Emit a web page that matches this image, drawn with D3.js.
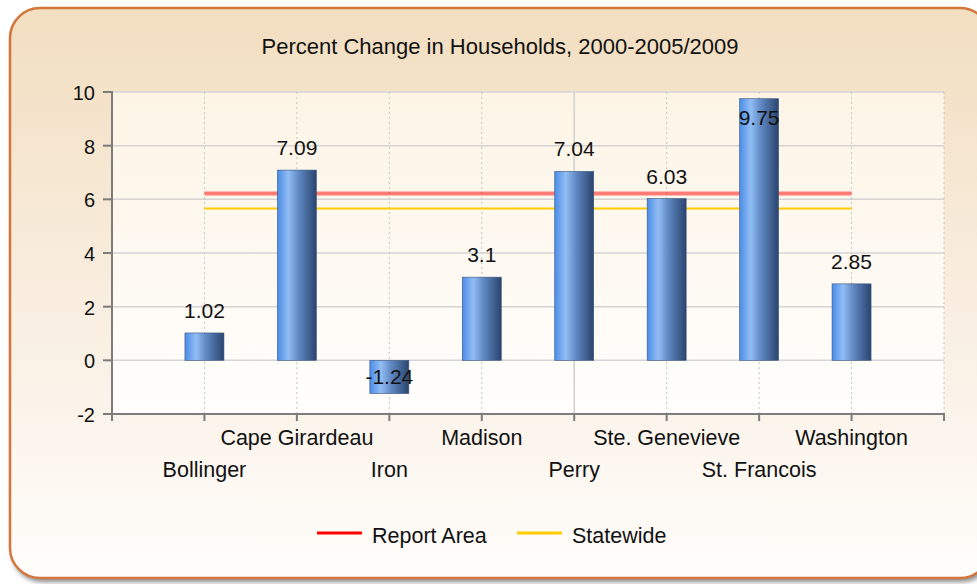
<!DOCTYPE html>
<html><head><meta charset="utf-8">
<script src="https://cdn.jsdelivr.net/npm/d3@7"></script>
<style>html,body{margin:0;padding:0;background:#fff;overflow:hidden}svg{display:block}</style>
</head><body>
<script>
const title = "Percent Change in Households, 2000-2005/2009";
const categories = ["Bollinger","Cape Girardeau","Iron","Madison","Perry","Ste. Genevieve","St. Francois","Washington"];
const values = [1.02, 7.09, -1.24, 3.1, 7.04, 6.03, 9.75, 2.85];
const reportArea = 6.22;
const statewide = 5.66;
const yTicks = [-2, 0, 2, 4, 6, 8, 10];
const legendItems = ["Report Area", "Statewide"];

const W = 977, H = 584;
const font = "'Liberation Sans', Arial, sans-serif";
const txt = "#111111";
const svg = d3.select("body").append("svg").attr("width", W).attr("height", H);
const defs = svg.append("defs");

const bg = defs.append("linearGradient").attr("id","bg").attr("x1",0).attr("y1",0).attr("x2",0).attr("y2",1);
bg.append("stop").attr("offset","0%").attr("stop-color","#f2dec0");
bg.append("stop").attr("offset","55%").attr("stop-color","#f9efe2");
bg.append("stop").attr("offset","100%").attr("stop-color","#fffdfb");

const pg = defs.append("linearGradient").attr("id","pg").attr("x1",0).attr("y1",0).attr("x2",0).attr("y2",1);
pg.append("stop").attr("offset","0%").attr("stop-color","#fdf4e5");
pg.append("stop").attr("offset","100%").attr("stop-color","#fffefd");

const bgB = defs.append("linearGradient").attr("id","bar").attr("x1",0).attr("y1",0).attr("x2",1).attr("y2",0);
[["0%","#4a8ce8"],["28%","#92bdf4"],["55%","#5f88c2"],["100%","#2a446e"]].forEach(s =>
  bgB.append("stop").attr("offset",s[0]).attr("stop-color",s[1]));

const sh = defs.append("filter").attr("id","sh").attr("x","-5%").attr("y","-5%").attr("width","110%").attr("height","115%");
sh.append("feGaussianBlur").attr("stdDeviation",2.5);

// frame
svg.append("rect").attr("x",12).attr("y",12).attr("width",980).attr("height",570).attr("rx",30)
  .attr("fill","#8a8a8a").attr("filter","url(#sh)");
svg.append("rect").attr("x",10).attr("y",8).attr("width",980).attr("height",570).attr("rx",30)
  .attr("fill","url(#bg)").attr("stroke","#d2763c").attr("stroke-width",2.5);

// title
svg.append("text").attr("x",500).attr("y",54).attr("text-anchor","middle")
  .attr("font-family",font).attr("font-size",22).attr("fill",txt).text(title);

const x = d3.scaleLinear().domain([0, categories.length + 1]).range([112, 944]);
const y = d3.scaleLinear().domain([-2, 10]).range([414, 92]);

// plot area
svg.append("rect").attr("x",x(0)).attr("y",y(10)).attr("width",x(9)-x(0)).attr("height",y(-2)-y(10))
  .attr("fill","url(#pg)");

// horizontal gridlines
svg.append("g").selectAll("line").data(yTicks.filter(t => t > -2)).join("line")
  .attr("x1",x(0)).attr("x2",x(9)).attr("y1",d=>y(d)).attr("y2",d=>y(d))
  .attr("stroke","#d4d4d4").attr("stroke-width",1.5);

// vertical gridlines
const vIdx = d3.range(1, categories.length + 2);
svg.append("g").selectAll("line").data(vIdx).join("line")
  .attr("x1",d=>x(d)).attr("x2",d=>x(d)).attr("y1",y(10)).attr("y2",y(-2))
  .attr("stroke", d => d === 5 ? "#d0d0d0" : "#c4c4c4")
  .attr("stroke-width", d => d === 5 ? 1.5 : 1)
  .attr("stroke-dasharray", d => d === 5 ? null : "2,3");

// lines
svg.append("line").attr("x1",x(1)).attr("x2",x(categories.length)).attr("y1",y(reportArea)).attr("y2",y(reportArea))
  .attr("stroke","#ff0000").attr("stroke-opacity",0.5).attr("stroke-width",4);
svg.append("line").attr("x1",x(1)).attr("x2",x(categories.length)).attr("y1",y(statewide)).attr("y2",y(statewide))
  .attr("stroke","#ffcc00").attr("stroke-width",2);

// bars
const bw = 39;
svg.append("g").selectAll("rect").data(values).join("rect")
  .attr("x",(d,i)=>x(i+1)-bw/2).attr("width",bw)
  .attr("y",d=>y(Math.max(0,d))).attr("height",d=>Math.abs(y(d)-y(0)))
  .attr("fill","url(#bar)").attr("stroke","#3a5680").attr("stroke-width",0.6);

// value labels
svg.append("g").selectAll("text").data(values).join("text")
  .attr("x",(d,i)=>x(i+1)).attr("text-anchor","middle")
  .attr("y",d => d < 0 ? y(d/2) + 7.5 : Math.max(y(d) - 15, y(10) + 33))
  .attr("font-family",font).attr("font-size",21).attr("fill",txt)
  .text(d=>d);

// axes
const ax = svg.append("g").attr("stroke","#7c7c7c").attr("stroke-width",2);
ax.append("line").attr("x1",x(0)).attr("x2",x(0)).attr("y1",y(10)-1).attr("y2",y(-2)+1);
ax.append("line").attr("x1",x(0)-1).attr("x2",x(9)+1).attr("y1",y(-2)).attr("y2",y(-2));
ax.selectAll(".yt").data(yTicks).join("line").attr("class","yt")
  .attr("x1",x(0)-9).attr("x2",x(0)).attr("y1",d=>y(d)).attr("y2",d=>y(d));
ax.selectAll(".xt").data(d3.range(0, categories.length + 2)).join("line").attr("class","xt")
  .attr("x1",d=>x(d)).attr("x2",d=>x(d)).attr("y1",y(-2)).attr("y2",y(-2)+7);

svg.append("g").selectAll("text").data(yTicks).join("text")
  .attr("x",x(0)-17).attr("y",d=>y(d)+8).attr("text-anchor","end")
  .attr("font-family",font).attr("font-size",20).attr("fill",txt).text(d=>d);

svg.append("g").selectAll("text").data(categories).join("text")
  .attr("x",(d,i)=>x(i+1)).attr("y",(d,i)=> i % 2 === 1 ? 445 : 477).attr("text-anchor","middle")
  .attr("font-family",font).attr("font-size",21.5).attr("fill",txt).text(d=>d);

// legend
const lg = svg.append("g");
const legColors = ["#ff0000","#ffcc00"];
const legX = [317, 517];
legendItems.forEach((t,i) => {
  lg.append("line").attr("x1",legX[i]).attr("x2",legX[i]+45).attr("y1",533).attr("y2",533)
    .attr("stroke",legColors[i]).attr("stroke-width",3);
  lg.append("text").attr("x",legX[i]+55).attr("y",543).attr("font-family",font).attr("font-size",21.5)
    .attr("fill",txt).text(t);
});
</script>
</body></html>
